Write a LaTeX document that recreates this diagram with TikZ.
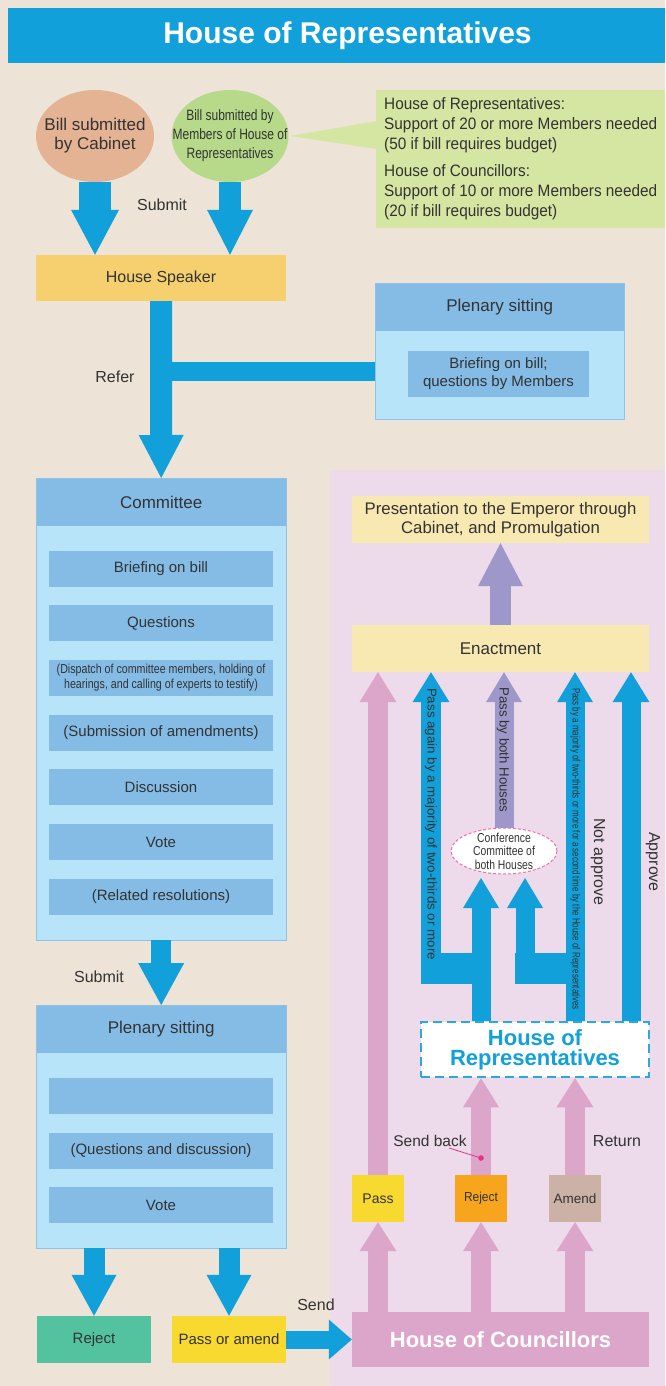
\documentclass[tikz,border=0pt]{standalone}
\usepackage{fontspec}
\usepackage{graphicx}
\setmainfont{Liberation Sans}
\usetikzlibrary{arrows.meta,shapes.geometric,calc}
\definecolor{bgc}{HTML}{EEE3D7}
\definecolor{pinkbg}{HTML}{EDDAEB}
\definecolor{blu}{HTML}{12A0DA}
\definecolor{hdr}{HTML}{84BCE6}
\definecolor{lbody}{HTML}{B8E4F9}
\definecolor{bord}{HTML}{8CC3EA}
\definecolor{spkc}{HTML}{F6D06F}
\definecolor{cabc}{HTML}{E3B394}
\definecolor{grnc}{HTML}{B6D98A}
\definecolor{callc}{HTML}{D4E6A2}
\definecolor{enc}{HTML}{F8E8B2}
\definecolor{tealc}{HTML}{52C39E}
\definecolor{yelc}{HTML}{F8D930}
\definecolor{orgc}{HTML}{F7A51D}
\definecolor{tanc}{HTML}{CCB1A6}
\definecolor{pnkc}{HTML}{DCA6CB}
\definecolor{purc}{HTML}{9E97C9}
\definecolor{txt}{HTML}{333333}
\definecolor{dashb}{HTML}{2AA8E0}
\definecolor{magc}{HTML}{E8338A}
\definecolor{confd}{HTML}{EE6FA0}
\newcommand{\fsz}[2]{\fontsize{#1}{#2}\selectfont}
\newcommand{\cnd}[2]{\scalebox{#1}[1]{#2}}
\tikzset{
  arw/.style n args={4}{draw=#1, line width=#2, -{Triangle[width=#3,length=#4,line width=0pt]}},
  item/.style={rectangle, fill=hdr, minimum width=224pt, minimum height=36pt, align=center, font=\fsz{15}{18}},
  lab/.style={font=\fsz{16}{19}},
}
\begin{document}
\begin{tikzpicture}[x=1pt,y=-1pt, every node/.style={text=txt, inner sep=0pt}]
\useasboundingbox (0,0) rectangle (665,1386);
\fill[bgc] (0,0) rectangle (665,1386);
\fill[pinkbg] (330,470) rectangle (665,1386);

% title
\node[fill=blu, minimum width=657pt, minimum height=55pt] (titlebar) at (336.5,35.5) {};
\node[text=white, font=\bfseries\fsz{30}{32}] (title) at (347.5,35.5) {House of Representatives};

% origins
\node[ellipse, fill=cabc, minimum width=118pt, minimum height=92pt,
  label={[align=center, font=\fsz{17}{19}]center:Bill submitted\\by Cabinet}] (cab) at (95,136) {};
\node[ellipse, fill=grnc, minimum width=117pt, minimum height=92pt,
  label={[align=center, font=\fsz{15}{19}]center:\cnd{0.8}{Bill submitted by}\\\cnd{0.8}{Members of House of}\\\cnd{0.8}{Representatives}}] (memb) at (230,136) {};

% callout
\fill[callc] (377,121) -- (290,136) -- (377,149) -- cycle;
\node[fill=callc, anchor=north west, minimum width=289pt, minimum height=138pt, align=left, font=\fsz{16.5}{20}] (call) at (376,90) {\cnd{0.93}{House of Representatives:}\\\cnd{0.93}{Support of 20 or more Members needed}\\\cnd{0.93}{(50 if bill requires budget)}\\[7pt]\cnd{0.93}{House of Councillors:}\\\cnd{0.93}{Support of 10 or more Members needed}\\\cnd{0.93}{(20 if bill requires budget)}};

% speaker
\node[fill=spkc, minimum width=250pt, minimum height=46pt, font=\fsz{16}{19}] (spk) at (161,278) {House Speaker};

% plenary top right
\node[fill=lbody, anchor=north west, minimum width=249pt, minimum height=136pt] (plen1) at (375,283) {};
\node[fill=hdr, anchor=north west, minimum width=249pt, minimum height=48pt, font=\fsz{17}{20}] (plen1h) at (375,283) {Plenary sitting};
\draw[bord, line width=1pt] (plen1.north west) rectangle (plen1.south east);
\node[item, minimum width=181pt, minimum height=46pt, font=\fsz{15}{18}] (plen1i) at (498.5,374) {Briefing on bill;\\questions by Members};

% committee
\node[fill=lbody, anchor=north west, minimum width=250pt, minimum height=462pt] (comm) at (36,478) {};
\node[fill=hdr, anchor=north west, minimum width=250pt, minimum height=48pt, font=\fsz{17}{20}] (commh) at (36,478) {Committee};
\draw[bord, line width=1pt] (comm.north west) rectangle (comm.south east);
\node[item] (c1) at (161,569) {Briefing on bill};
\node[item] (c2) at (161,623) {Questions};
\node[item, font=\fsz{13}{15}] (c3) at (161,678) {\cnd{0.82}{(Dispatch of committee members, holding of}\\\cnd{0.82}{hearings, and calling of experts to testify)}};
\node[item] (c4) at (161,733) {(Submission of amendments)};
\node[item] (c5) at (161,787) {Discussion};
\node[item] (c6) at (161,842) {Vote};
\node[item] (c7) at (161,897) {(Related resolutions)};

% plenary bottom
\node[fill=lbody, anchor=north west, minimum width=250pt, minimum height=243pt] (plen2) at (36,1005) {};
\node[fill=hdr, anchor=north west, minimum width=250pt, minimum height=48pt, font=\fsz{17}{20}] (plen2h) at (36,1005) {Plenary sitting};
\draw[bord, line width=1pt] (plen2.north west) rectangle (plen2.south east);
\node[item] (p1) at (161,1096) {};
\node[item] (p2) at (161,1151) {(Questions and discussion)};
\node[item] (p3) at (161,1205) {Vote};

\node[fill=tealc, minimum width=114pt, minimum height=47pt, font=\fsz{15}{18}] (rej) at (94,1339.5) {Reject};
\node[fill=yelc, minimum width=114pt, minimum height=47pt, font=\fsz{15}{18}] (pam) at (229,1339.5) {Pass or amend};

% right side boxes
\node[fill=enc, minimum width=297pt, minimum height=47pt, align=center, font=\fsz{16.8}{18.7}] (pres) at (500.5,519.5) {Presentation to the Emperor through\\Cabinet, and Promulgation};
\node[fill=enc, minimum width=297pt, minimum height=47pt, font=\fsz{17}{20}] (enact) at (500.5,648.5) {Enactment};
\node[fill=white, draw=dashb, line width=2.5pt, dash pattern=on 9pt off 5pt, minimum width=228pt, minimum height=55pt, align=center, text=blu, font=\bfseries\fsz{22}{20}] (hor) at (535,1049.5) {House of\\Representatives};
\node[ellipse, fill=white, draw=confd, line width=1pt, dash pattern=on 3pt off 2pt, minimum width=106pt, minimum height=46pt,
  label={[align=center, font=\fsz{13}{13.5}]center:\cnd{0.8}{Conference}\\\cnd{0.8}{Committee of}\\\cnd{0.8}{both Houses}}] (conf) at (504,851) {};
\node[fill=pnkc, minimum width=297pt, minimum height=55pt, text=white, font=\bfseries\fsz{22}{24}] (hoc) at (500.5,1339.5) {House of Councillors};
\node[fill=yelc, minimum width=52pt, minimum height=47pt, font=\fsz{14}{16}] (pas) at (378,1198.5) {Pass};
\node[fill=orgc, minimum width=52pt, minimum height=47pt, font=\fsz{13}{15}] (rej2) at (481,1198.5) {\cnd{0.92}{Reject}};
\node[fill=tanc, minimum width=52pt, minimum height=47pt, font=\fsz{13.5}{16}] (amd) at (575,1198.5) {Amend};

% left arrows
\draw[arw={blu}{32pt}{48pt}{45pt}] (cab.south) -- (cab.south |- spk.north);
\draw[arw={blu}{22pt}{46pt}{45pt}] (memb.south) -- (memb.south |- spk.north);
\draw[arw={blu}{22pt}{45pt}{43pt}] (spk.south) -- (comm.north);
\coordinate (rb) at (161,371.5);
\draw[blu, line width=19pt] (rb) -- (rb -| plen1.west);
\draw[arw={blu}{20pt}{46pt}{42pt}] (comm.south) -- (plen2.north);
\draw[arw={blu}{21pt}{45pt}{41pt}] (plen2.south -| rej.north) -- (rej.north);
\draw[arw={blu}{21pt}{45pt}{41pt}] (plen2.south -| pam.north) -- (pam.north);
\draw[arw={blu}{18pt}{40pt}{23pt}] (pam.east) -- (hoc.west);

% pink arrows
\draw[arw={pnkc}{20pt}{37pt}{29pt}] (hoc.north -| pas.south) -- (pas.south);
\draw[arw={pnkc}{20pt}{37pt}{30pt}] (pas.north) -- (pas.north |- enact.south);
\draw[arw={pnkc}{20pt}{36pt}{29pt}] (hoc.north -| rej2.south) -- (rej2.south);
\draw[arw={pnkc}{20pt}{36pt}{29pt}] (rej2.north) -- (rej2.north |- hor.south);
\draw[arw={pnkc}{20pt}{37pt}{29pt}] (hoc.north -| amd.south) -- (amd.south);
\draw[arw={pnkc}{20pt}{37pt}{29pt}] (amd.north) -- (amd.north |- hor.south);

% blue arrows above House of Representatives
\coordinate (cA) at (481,0);
\coordinate (cC) at (575,0);
\coordinate (cD) at (631,0);
\coordinate (tA) at (481,878);
\coordinate (bE) at (431,984);
\coordinate (bB) at (525,984);
\coordinate (tB) at (525,878);
\fill[blu] (421,953) rectangle (491,984);
\fill[blu] (515,953) rectangle (585,984);
\draw[arw={blu}{19pt}{36pt}{30pt}] (hor.north -| cA) -- (tA);
\draw[arw={blu}{20pt}{37pt}{30pt}] (bE) -- (bE |- enact.south);
\draw[arw={blu}{19pt}{36pt}{30pt}] (bB) -- (tB);
\draw[arw={blu}{19pt}{36pt}{30pt}] (hor.north -| cC) -- (cC |- enact.south);
\draw[arw={blu}{19pt}{37pt}{30pt}] (hor.north -| cD) -- (cD |- enact.south);

% purple arrows
\draw[arw={purc}{19pt}{36pt}{30pt}] (conf.north) -- (conf.north |- enact.south);
\draw[arw={purc}{21pt}{45pt}{43pt}] (enact.north) -- (pres.south);

% labels
\node[lab] (lsub1) at (162,205) {Submit};
\node[lab] (lref) at (115,377) {Refer};
\node[lab] (lsub2) at (99,977) {Submit};
\node[lab] (lsend) at (316,1305) {Send};
\node[lab, font=\fsz{15.5}{18}] (lsb) at (430,1141) {Send back};
\node[lab] (lret) at (617,1141) {Return};
\coordinate (sbp) at (449,1148);
\coordinate (dot) at (481,1158);
\draw[magc, line width=0.8pt] (sbp) -- (dot);
\fill[magc] (dot) circle (2.8);

\node[rotate=-90] (l1) at (431,824) {\resizebox*{272pt}{12pt}{Pass again by a majority of two-thirds or more}};
\node[rotate=-90] (l2) at (503,750) {\resizebox*{125pt}{12.5pt}{Pass by both Houses}};
\node[rotate=-90] (l3) at (575.5,849) {\resizebox*{322pt}{10pt}{Pass by a majority of two-thirds or more for a second time by the House of Representatives}};
\node[lab, rotate=-90] (l4) at (598,862) {Not approve};
\node[lab, rotate=-90] (l5) at (653,862) {Approve};
\end{tikzpicture}
\end{document}
